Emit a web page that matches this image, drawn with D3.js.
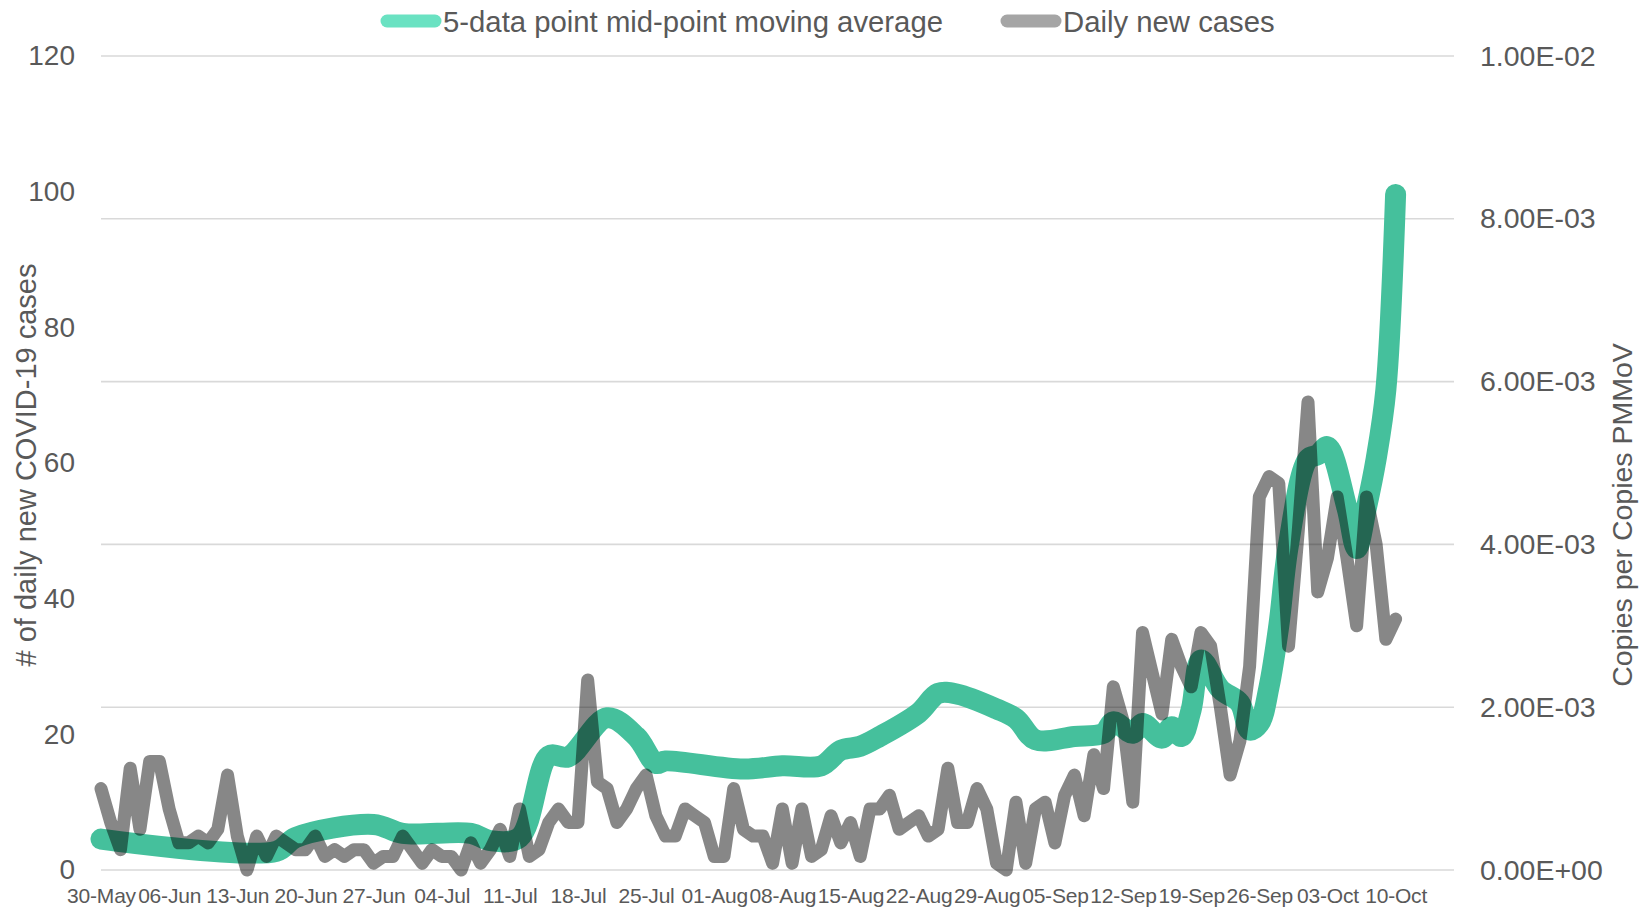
<!DOCTYPE html>
<html>
<head>
<meta charset="utf-8">
<script src="https://cdn.jsdelivr.net/npm/d3@7/dist/d3.min.js"></script>
<style>
  html, body { margin: 0; padding: 0; background: #ffffff; }
  svg { display: block; font-family: "Liberation Sans", Arial, sans-serif; }
</style>
</head>
<body>
<svg id="chart" width="1639" height="909"></svg>
<script>
// ---------- DATA ----------
const caseStartDate = "2020-05-30";
const dailyCases = [
  12, 7, 3, 15, 6, 16, 16, 9, 4, 4, 5, 4, 6, 14, 5, 0, 5, 2, 5, 4,
  3, 3, 5, 2, 3, 2, 3, 3, 1, 2, 2, 5, 3, 1, 3, 2, 2, 0, 4, 1,
  3, 6, 2, 9, 2, 3, 7, 9, 7, 7, 28, 13, 12, 7, 9, 12, 14, 8, 5, 5,
  9, 8, 7, 2, 2, 12, 6, 5, 5, 1, 9, 1, 9, 2, 3, 8, 4, 7, 2, 9,
  9, 11, 6, 7, 8, 5, 6, 15, 7, 7, 12, 9, 1, 0, 10, 1, 9, 10, 4, 11,
  14, 8, 17, 12, 27, 22, 10, 35, 29, 23, 34, 30, 27, 35, 33, 24, 14, 19, 30, 55,
  58, 57, 33, 50, 69, 41, 46, 55, 46, 36, 55, 48, 34, 37
];

const maDates = [
  "2020-05-30", "2020-06-17", "2020-06-19", "2020-06-27", "2020-06-30",
  "2020-07-07", "2020-07-09", "2020-07-12", "2020-07-15", "2020-07-17",
  "2020-07-21", "2020-07-24", "2020-07-26", "2020-07-27", "2020-08-04",
  "2020-08-08", "2020-08-12", "2020-08-14", "2020-08-16", "2020-08-18",
  "2020-08-22", "2020-08-24", "2020-08-26", "2020-08-30", "2020-09-01",
  "2020-09-03", "2020-09-07", "2020-09-10", "2020-09-11", "2020-09-13",
  "2020-09-14", "2020-09-16", "2020-09-17", "2020-09-18", "2020-09-19",
  "2020-09-20", "2020-09-22", "2020-09-24", "2020-09-25", "2020-09-26",
  "2020-09-27", "2020-09-28", "2020-09-29", "2020-10-01", "2020-10-02",
  "2020-10-03", "2020-10-05", "2020-10-06", "2020-10-07", "2020-10-08",
  "2020-10-09", "2020-10-10"
];
const maValues = [
  0.00038, 0.00023, 0.00040, 0.00056, 0.00045,
  0.00045, 0.00036, 0.00040, 0.00140, 0.00139,
  0.00187, 0.00164, 0.00131, 0.00134, 0.00124,
  0.00128, 0.00128, 0.00147, 0.00152, 0.00164,
  0.00193, 0.00217, 0.00216, 0.00198, 0.00186,
  0.00160, 0.00164, 0.00168, 0.00182, 0.00168,
  0.00180, 0.00162, 0.00176, 0.00164, 0.00197,
  0.00258, 0.00222, 0.00205, 0.00172, 0.00180,
  0.00225, 0.00300, 0.00400, 0.00505, 0.00510,
  0.00520, 0.00445, 0.00395, 0.00445, 0.00505,
  0.00590, 0.00830
];

const xTickDates = [
  "2020-05-30", "2020-06-06", "2020-06-13", "2020-06-20", "2020-06-27",
  "2020-07-04", "2020-07-11", "2020-07-18", "2020-07-25", "2020-08-01",
  "2020-08-08", "2020-08-15", "2020-08-22", "2020-08-29", "2020-09-05",
  "2020-09-12", "2020-09-19", "2020-09-26", "2020-10-03", "2020-10-10"
];
const xTickLabels = [
  "30-May", "06-Jun", "13-Jun", "20-Jun", "27-Jun", "04-Jul", "11-Jul",
  "18-Jul", "25-Jul", "01-Aug", "08-Aug", "15-Aug", "22-Aug", "29-Aug",
  "05-Sep", "12-Sep", "19-Sep", "26-Sep", "03-Oct", "10-Oct"
];
const xDomain = ["2020-05-30", "2020-10-16"];

const leftTicks = [0, 20, 40, 60, 80, 100, 120];
const rightTicks = [0, 0.002, 0.004, 0.006, 0.008, 0.01];
const rightTickLabels = ["0.00E+00", "2.00E-03", "4.00E-03", "6.00E-03", "8.00E-03", "1.00E-02"];

const seriesNames = ["5-data point mid-point moving average", "Daily new cases"];
const yLeftTitle = "# of daily new COVID-19 cases";
const yRightTitle = "Copies per Copies PMMoV";

// ---------- CHART ----------
const parse = d3.utcParse("%Y-%m-%d");
const svg = d3.select("#chart");
const textColor = "#595959";
const greenColor = "#45c09c";
const grayStroke = "rgba(0,0,0,0.47)";
const fontFam = '"Liberation Sans", Arial, sans-serif';

const plot = { left: 101, right: 1454, top: 56, bottom: 870 };

const x = d3.scaleUtc().domain(xDomain.map(parse)).range([plot.left, plot.right]);
const yL = d3.scaleLinear().domain([0, 120]).range([plot.bottom, plot.top]);
const yR = d3.scaleLinear().domain([0, 0.01]).range([plot.bottom, plot.top]);

// gridlines (follow right axis)
svg.append("g").selectAll("line").data(rightTicks).join("line")
  .attr("x1", plot.left).attr("x2", plot.right)
  .attr("y1", d => yR(d)).attr("y2", d => yR(d))
  .attr("stroke", "#d9d9d9").attr("stroke-width", 1.6);

// series
const start = parse(caseStartDate);
const caseData = dailyCases.map((v, i) => ({ date: d3.utcDay.offset(start, i), value: v }));
const maData = maDates.map((d, i) => ({ date: parse(d), value: maValues[i] }));

const maLine = d3.line().x(d => x(d.date)).y(d => yR(d.value)).curve(d3.curveCatmullRom.alpha(0.5));
const caseLine = d3.line().x(d => x(d.date)).y(d => yL(d.value));

svg.append("path").datum(maData)
  .attr("d", maLine)
  .attr("fill", "none").attr("stroke", greenColor)
  .attr("stroke-width", 21).attr("stroke-linejoin", "round").attr("stroke-linecap", "round");

svg.append("path").datum(caseData)
  .attr("d", caseLine)
  .attr("fill", "none").attr("stroke", grayStroke)
  .attr("stroke-width", 13).attr("stroke-linejoin", "round").attr("stroke-linecap", "round");

// axes
const leftAxis = d3.axisLeft(yL).tickValues(leftTicks).tickSize(0).tickPadding(26);
const gL = svg.append("g").attr("transform", `translate(${plot.left},0)`).call(leftAxis);
gL.select(".domain").remove();
gL.selectAll("text").attr("fill", textColor).style("font-size", "28px").style("font-family", fontFam);

const rightAxis = d3.axisRight(yR).tickValues(rightTicks).tickSize(0).tickPadding(26)
  .tickFormat((d, i) => rightTickLabels[i]);
const gR = svg.append("g").attr("transform", `translate(${plot.right},0)`).call(rightAxis);
gR.select(".domain").remove();
gR.selectAll("text").attr("fill", textColor).style("font-size", "28.5px").style("font-family", fontFam);

const bottomAxis = d3.axisBottom(x).tickValues(xTickDates.map(parse)).tickSize(0).tickPadding(18)
  .tickFormat((d, i) => xTickLabels[i]);
const gB = svg.append("g").attr("transform", `translate(0,${plot.bottom})`).call(bottomAxis);
gB.select(".domain").remove();
gB.selectAll("text").attr("fill", textColor).style("font-size", "21px")
  .style("letter-spacing", "-0.2px").style("font-family", fontFam);

// axis titles
svg.append("text")
  .attr("transform", "translate(26,465) rotate(-90)")
  .attr("text-anchor", "middle").attr("dominant-baseline", "central")
  .attr("fill", textColor).style("font-size", "29px")
  .text(yLeftTitle);

svg.append("text")
  .attr("transform", "translate(1622,515) rotate(-90)")
  .attr("text-anchor", "middle").attr("dominant-baseline", "central")
  .attr("fill", textColor).style("font-size", "28.5px")
  .text(yRightTitle);

// legend
const legendItems = [
  { name: seriesNames[0], color: "#6ae2c2", x1: 387, x2: 435, tx: 443 },
  { name: seriesNames[1], color: "#a5a5a5", x1: 1007, x2: 1055, tx: 1063 }
];
const lg = svg.append("g");
legendItems.forEach(it => {
  lg.append("line").attr("x1", it.x1).attr("x2", it.x2).attr("y1", 21).attr("y2", 21)
    .attr("stroke", it.color).attr("stroke-width", 13).attr("stroke-linecap", "round");
  lg.append("text").attr("x", it.tx).attr("y", 21).attr("dominant-baseline", "central")
    .attr("fill", textColor).style("font-size", "29.3px").text(it.name);
});
</script>
</body>
</html>
